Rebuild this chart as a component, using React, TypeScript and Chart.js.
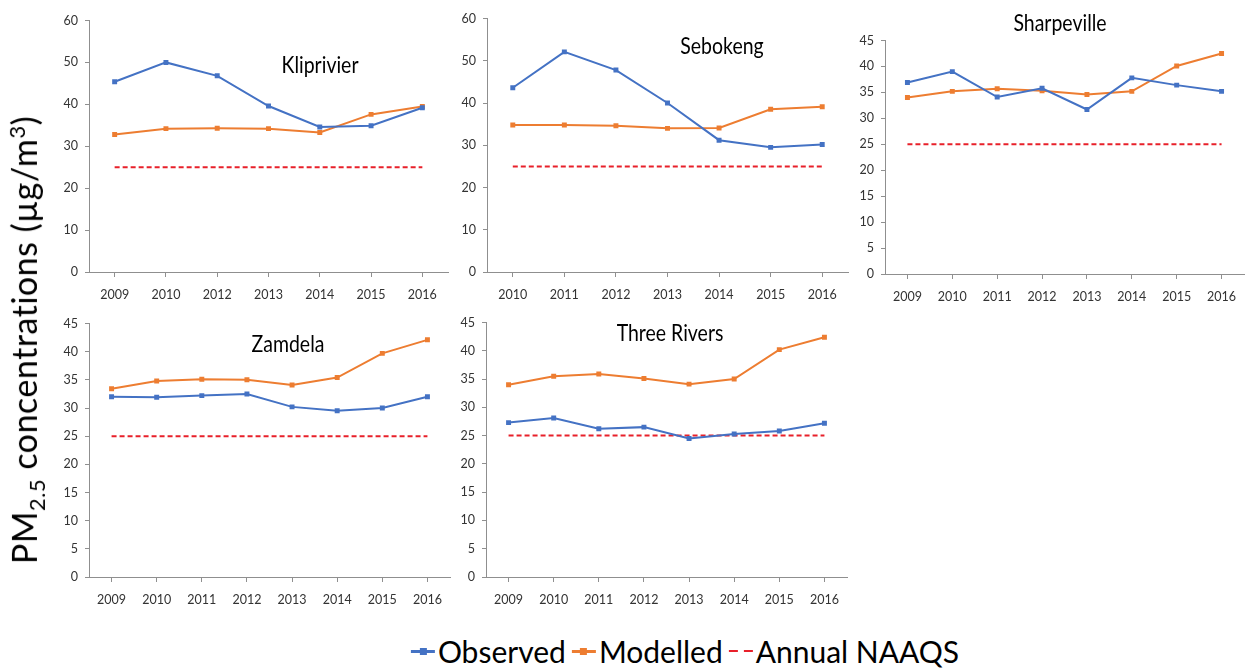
import React, { useEffect, useRef } from 'react';
import { Chart, registerables } from 'chart.js';

Chart.register(...registerables);

// ---------------- data ----------------
const YEARS_KLIPRIVIER = ['2009', '2010', '2012', '2013', '2014', '2015', '2016'];
const YEARS_SEBOKENG = ['2010', '2011', '2012', '2013', '2014', '2015', '2016'];
const YEARS_FULL = ['2009', '2010', '2011', '2012', '2013', '2014', '2015', '2016'];

const KLIPRIVIER_OBSERVED = [45.4, 50.0, 46.8, 39.6, 34.6, 34.9, 39.2];
const KLIPRIVIER_MODELLED = [32.8, 34.2, 34.3, 34.2, 33.3, 37.6, 39.5];

const SEBOKENG_OBSERVED = [43.6, 52.1, 47.8, 40.0, 31.2, 29.5, 30.2];
const SEBOKENG_MODELLED = [34.8, 34.8, 34.6, 34.0, 34.1, 38.5, 39.1];

const SHARPEVILLE_OBSERVED = [36.9, 39.0, 34.1, 35.8, 31.7, 37.8, 36.4, 35.2];
const SHARPEVILLE_MODELLED = [34.0, 35.2, 35.7, 35.3, 34.6, 35.2, 40.1, 42.5];

const ZAMDELA_OBSERVED = [32.0, 31.9, 32.2, 32.5, 30.2, 29.5, 30.0, 32.0];
const ZAMDELA_MODELLED = [33.4, 34.8, 35.1, 35.0, 34.1, 35.4, 39.7, 42.1];

const THREE_RIVERS_OBSERVED = [27.3, 28.1, 26.2, 26.5, 24.5, 25.3, 25.8, 27.2];
const THREE_RIVERS_MODELLED = [34.0, 35.5, 35.9, 35.1, 34.1, 35.0, 40.2, 42.4];

const NAAQS_ANNUAL = 25;

const SERIES_NAMES = ['Observed', 'Modelled', 'Annual NAAQS'];
const Y_TITLE_MAIN = 'PM';
const Y_TITLE_SUB = '2.5';
const Y_TITLE_REST = ' concentrations (µg/m';
const Y_TITLE_SUP = '3';

// ---------------- styles ----------------
const BLUE = '#4472C4';
const ORANGE = '#ED7D31';
const RED = '#E8202A';
const AXIS = '#8f8f8f';
const TICK_TEXT = '#333333';
const FONT = 'Lato, "Open Sans", sans-serif';

const Y_AXIS_W = 45;
const X_AXIS_H = 36;
const PAD_TOP = 12;

type PanelDef = {
  name: string;
  labels: string[];
  observed: number[];
  modelled: number[];
  yMax: number;
  yStep: number;
  left: number;
  top: number;
  right: number;
  bottom: number;
  padRight: number;
  titleX: number;
  titleY: number;
};

const PANELS: PanelDef[] = [
  { name: 'Kliprivier', labels: YEARS_KLIPRIVIER, observed: KLIPRIVIER_OBSERVED, modelled: KLIPRIVIER_MODELLED, yMax: 60, yStep: 10, left: 89, top: 18, right: 448, bottom: 272, padRight: 6, titleX: 320, titleY: 64 },
  { name: 'Sebokeng', labels: YEARS_SEBOKENG, observed: SEBOKENG_OBSERVED, modelled: SEBOKENG_MODELLED, yMax: 60, yStep: 10, left: 487, top: 16, right: 848, bottom: 272, padRight: 4, titleX: 722, titleY: 45 },
  { name: 'Sharpeville', labels: YEARS_FULL, observed: SHARPEVILLE_OBSERVED, modelled: SHARPEVILLE_MODELLED, yMax: 45, yStep: 5, left: 885, top: 38, right: 1246, bottom: 274, padRight: 2, titleX: 1060, titleY: 22 },
  { name: 'Zamdela', labels: YEARS_FULL, observed: ZAMDELA_OBSERVED, modelled: ZAMDELA_MODELLED, yMax: 45, yStep: 5, left: 89, top: 321, right: 450, bottom: 577, padRight: 6, titleX: 288, titleY: 343 },
  { name: 'Three Rivers', labels: YEARS_FULL, observed: THREE_RIVERS_OBSERVED, modelled: THREE_RIVERS_MODELLED, yMax: 45, yStep: 5, left: 486, top: 320, right: 847, bottom: 577, padRight: 4, titleX: 670, titleY: 332 },
];

function Panel({ p }: { p: PanelDef }) {
  const ref = useRef<HTMLCanvasElement>(null);
  const cw = p.right - p.left + Y_AXIS_W + p.padRight;
  const ch = p.bottom - p.top + PAD_TOP + X_AXIS_H;

  useEffect(() => {
    const naaqs = p.labels.map(() => NAAQS_ANNUAL);
    const chart = new Chart(ref.current!, {
      type: 'line',
      data: {
        labels: p.labels,
        datasets: [
          {
            label: SERIES_NAMES[0],
            data: p.observed,
            borderColor: BLUE,
            backgroundColor: BLUE,
            borderWidth: 2,
            pointStyle: 'rect',
            pointRadius: 3.5,
            pointBorderWidth: 0,
            tension: 0,
          },
          {
            label: SERIES_NAMES[1],
            data: p.modelled,
            borderColor: ORANGE,
            backgroundColor: ORANGE,
            borderWidth: 2,
            pointStyle: 'rect',
            pointRadius: 3.5,
            pointBorderWidth: 0,
            tension: 0,
          },
          {
            label: SERIES_NAMES[2],
            data: naaqs,
            borderColor: RED,
            borderWidth: 2,
            borderDash: [5, 3],
            pointRadius: 0,
            tension: 0,
          },
        ],
      },
      options: {
        responsive: false,
        animation: false,
        layout: { padding: { top: PAD_TOP, right: p.padRight, left: 0, bottom: 0 } },
        plugins: {
          legend: { display: false },
          tooltip: { enabled: false },
          title: { display: false },
        },
        scales: {
          x: {
            type: 'category',
            offset: true,
            afterFit: (s: any) => { s.height = X_AXIS_H; },
            grid: { display: true, drawOnChartArea: false, drawTicks: true, tickLength: 5, color: AXIS, offset: false },
            border: { display: true, color: AXIS, width: 1 },
            ticks: { color: TICK_TEXT, font: { family: FONT, size: 12.5 }, padding: 10, maxRotation: 0, autoSkip: false },
          },
          y: {
            min: 0,
            max: p.yMax,
            afterFit: (s: any) => { s.width = Y_AXIS_W; },
            grid: { display: true, drawOnChartArea: false, drawTicks: true, tickLength: 4, color: AXIS },
            border: { display: true, color: AXIS, width: 1 },
            ticks: { stepSize: p.yStep, color: TICK_TEXT, font: { family: FONT, size: 12.5 }, padding: 7 },
          },
        },
      },
    });
    return () => chart.destroy();
  }, []);

  return (
    <>
      <canvas
        ref={ref}
        width={cw}
        height={ch}
        style={{ position: 'absolute', left: p.left - Y_AXIS_W, top: p.top - PAD_TOP, width: cw, height: ch }}
      />
      <div
        style={{
          position: 'absolute',
          left: p.titleX,
          top: p.titleY,
          transform: 'translate(-50%, -50%) scale(0.95, 1.12)',
          fontFamily: FONT,
          fontSize: 20.5,
          color: '#000',
          whiteSpace: 'nowrap',
          lineHeight: 1,
        }}
      >
        {p.name}
      </div>
    </>
  );
}

function LegendMarker({ color, dashed }: { color: string; dashed?: boolean }) {
  if (dashed) {
    return (
      <span style={{ display: 'inline-flex', width: 24, alignItems: 'center', justifyContent: 'space-between', marginRight: 3 }}>
        <span style={{ width: 9, height: 2.5, background: color, display: 'inline-block' }} />
        <span style={{ width: 9, height: 2.5, background: color, display: 'inline-block' }} />
      </span>
    );
  }
  return (
    <span style={{ position: 'relative', display: 'inline-block', width: 24, height: 8, marginRight: 3 }}>
      <span style={{ position: 'absolute', left: 0, top: 3, width: 24, height: 2.5, background: color }} />
      <span style={{ position: 'absolute', left: 8.5, top: 0.5, width: 7, height: 7, background: color }} />
    </span>
  );
}

export default function App() {
  return (
    <div style={{ position: 'absolute', left: 0, top: 0, width: 1248, height: 668, background: '#fff', overflow: 'hidden' }}>
      {PANELS.map((p) => (
        <Panel key={p.name} p={p} />
      ))}
      <div
        style={{
          position: 'absolute',
          left: 27,
          top: 340,
          transform: 'translate(-50%, -50%) rotate(-90deg)',
          fontFamily: FONT,
          fontSize: 34,
          letterSpacing: 0.5,
          color: '#000',
          whiteSpace: 'nowrap',
          lineHeight: 1,
        }}
      >
        {Y_TITLE_MAIN}
        <sub style={{ fontSize: 22 }}>{Y_TITLE_SUB}</sub>
        {Y_TITLE_REST}
        <sup style={{ fontSize: 22 }}>{Y_TITLE_SUP}</sup>)
      </div>
      <div
        style={{
          position: 'absolute',
          left: 685,
          top: 651,
          transform: 'translate(-50%, -50%)',
          display: 'flex',
          alignItems: 'center',
          fontFamily: FONT,
          fontSize: 30,
          color: '#000',
          whiteSpace: 'nowrap',
          lineHeight: 1,
        }}
      >
        <LegendMarker color={BLUE} />
        <span style={{ marginRight: 6 }}>{SERIES_NAMES[0]}</span>
        <LegendMarker color={ORANGE} />
        <span style={{ marginRight: 6 }}>{SERIES_NAMES[1]}</span>
        <LegendMarker color={RED} dashed />
        <span>{SERIES_NAMES[2]}</span>
      </div>
    </div>
  );
}
